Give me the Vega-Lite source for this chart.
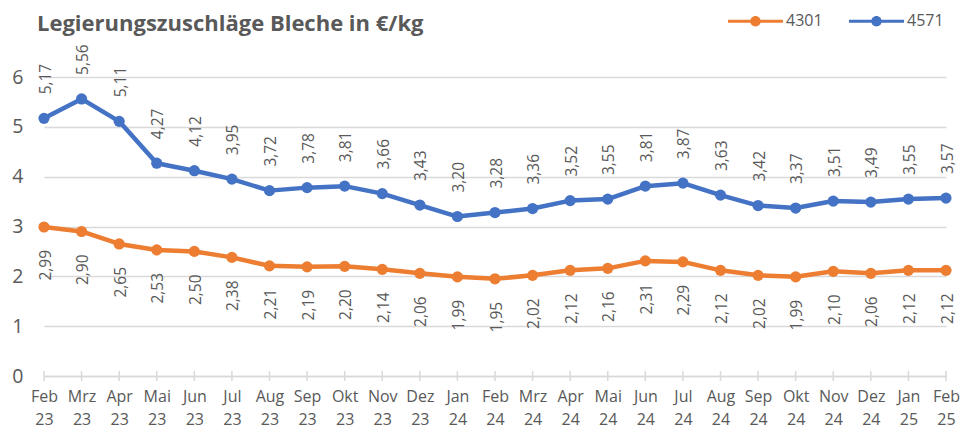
{
  "$schema": "https://vega.github.io/schema/vega-lite/v6.json",
  "width": 902,
  "height": 299,
  "autosize": {"type": "none"},
  "padding": {"left": 44, "top": 77, "right": 22, "bottom": 52},
  "background": "#ffffff",
  "title": {
    "text": "Legierungszuschläge Bleche in €/kg",
    "anchor": "start",
    "frame": "group",
    "font": "Open Sans",
    "fontSize": 22,
    "fontWeight": "bold",
    "color": "#595959",
    "baseline": "alphabetic",
    "dx": -7,
    "dy": 59,
    "offset": 0
  },
  "config": {
    "font": "Open Sans",
    "view": {"stroke": null},
    "locale": {"number": {"decimal": ",", "thousands": ".", "grouping": [3], "currency": ["", " €"]}}
  },
  "data": {
    "values": [
      {"month": "Feb 23", "series": "4301", "value": 2.99}, {"month": "Mrz 23", "series": "4301", "value": 2.90},
      {"month": "Apr 23", "series": "4301", "value": 2.65}, {"month": "Mai 23", "series": "4301", "value": 2.53},
      {"month": "Jun 23", "series": "4301", "value": 2.50}, {"month": "Jul 23", "series": "4301", "value": 2.38},
      {"month": "Aug 23", "series": "4301", "value": 2.21}, {"month": "Sep 23", "series": "4301", "value": 2.19},
      {"month": "Okt 23", "series": "4301", "value": 2.20}, {"month": "Nov 23", "series": "4301", "value": 2.14},
      {"month": "Dez 23", "series": "4301", "value": 2.06}, {"month": "Jan 24", "series": "4301", "value": 1.99},
      {"month": "Feb 24", "series": "4301", "value": 1.95}, {"month": "Mrz 24", "series": "4301", "value": 2.02},
      {"month": "Apr 24", "series": "4301", "value": 2.12}, {"month": "Mai 24", "series": "4301", "value": 2.16},
      {"month": "Jun 24", "series": "4301", "value": 2.31}, {"month": "Jul 24", "series": "4301", "value": 2.29},
      {"month": "Aug 24", "series": "4301", "value": 2.12}, {"month": "Sep 24", "series": "4301", "value": 2.02},
      {"month": "Okt 24", "series": "4301", "value": 1.99}, {"month": "Nov 24", "series": "4301", "value": 2.10},
      {"month": "Dez 24", "series": "4301", "value": 2.06}, {"month": "Jan 25", "series": "4301", "value": 2.12},
      {"month": "Feb 25", "series": "4301", "value": 2.12},
      {"month": "Feb 23", "series": "4571", "value": 5.17}, {"month": "Mrz 23", "series": "4571", "value": 5.56},
      {"month": "Apr 23", "series": "4571", "value": 5.11}, {"month": "Mai 23", "series": "4571", "value": 4.27},
      {"month": "Jun 23", "series": "4571", "value": 4.12}, {"month": "Jul 23", "series": "4571", "value": 3.95},
      {"month": "Aug 23", "series": "4571", "value": 3.72}, {"month": "Sep 23", "series": "4571", "value": 3.78},
      {"month": "Okt 23", "series": "4571", "value": 3.81}, {"month": "Nov 23", "series": "4571", "value": 3.66},
      {"month": "Dez 23", "series": "4571", "value": 3.43}, {"month": "Jan 24", "series": "4571", "value": 3.20},
      {"month": "Feb 24", "series": "4571", "value": 3.28}, {"month": "Mrz 24", "series": "4571", "value": 3.36},
      {"month": "Apr 24", "series": "4571", "value": 3.52}, {"month": "Mai 24", "series": "4571", "value": 3.55},
      {"month": "Jun 24", "series": "4571", "value": 3.81}, {"month": "Jul 24", "series": "4571", "value": 3.87},
      {"month": "Aug 24", "series": "4571", "value": 3.63}, {"month": "Sep 24", "series": "4571", "value": 3.42},
      {"month": "Okt 24", "series": "4571", "value": 3.37}, {"month": "Nov 24", "series": "4571", "value": 3.51},
      {"month": "Dez 24", "series": "4571", "value": 3.49}, {"month": "Jan 25", "series": "4571", "value": 3.55},
      {"month": "Feb 25", "series": "4571", "value": 3.57}
    ]
  },
  "encoding": {
    "x": {
      "field": "month",
      "type": "ordinal",
      "sort": null,
      "scale": {
        "type": "point",
        "padding": 0,
        "domain": ["Feb 23","Mrz 23","Apr 23","Mai 23","Jun 23","Jul 23","Aug 23","Sep 23","Okt 23","Nov 23","Dez 23","Jan 24","Feb 24","Mrz 24","Apr 24","Mai 24","Jun 24","Jul 24","Aug 24","Sep 24","Okt 24","Nov 24","Dez 24","Jan 25","Feb 25"]
      },
      "axis": {
        "title": null,
        "labelAngle": 0,
        "labelExpr": "split(datum.label, ' ')",
        "labelFontSize": 16,
        "labelColor": "#595959",
        "labelLineHeight": 23,
        "labelPadding": 12,
        "domainColor": "#d9d9d9",
        "domainWidth": 1.5,
        "ticks": false,
        "grid": false
      }
    },
    "y": {
      "field": "value",
      "type": "quantitative",
      "scale": {"domain": [0, 6], "nice": false, "zero": true},
      "axis": {
        "title": null,
        "values": [0, 1, 2, 3, 4, 5, 6],
        "labelFontSize": 19.5,
        "labelColor": "#595959",
        "labelPadding": 21,
        "domain": false,
        "ticks": false,
        "grid": true,
        "gridColor": "#d9d9d9",
        "gridWidth": 1.5
      }
    }
  },
  "layer": [
    {
      "transform": [{"filter": "datum.series == '4301'"}],
      "mark": {"type": "rule", "color": "#d9d9d9", "strokeWidth": 1.5},
      "encoding": {
        "y": {"datum": -0.1},
        "y2": {"datum": 0.1}
      }
    },
    {
      "mark": {"type": "line", "strokeWidth": 4.5, "strokeCap": "round", "strokeJoin": "round"},
      "encoding": {
        "color": {
          "field": "series",
          "type": "nominal",
          "scale": {"domain": ["4301", "4571"], "range": ["#ED7D31", "#4472C4"]}
        }
      }
    },
    {
      "mark": {"type": "point", "filled": true, "opacity": 1, "size": 125},
      "encoding": {
        "color": {
          "field": "series",
          "type": "nominal",
          "scale": {"domain": ["4301", "4571"], "range": ["#ED7D31", "#4472C4"]},
          "legend": {
            "title": null,
            "orient": "none",
            "direction": "horizontal",
            "legendX": 684,
            "legendY": -83.5,
            "padding": 0,
            "symbolType": "M-1,-0.055H1V0.055H-1Z M0.19,0 A0.19,0.19 0 1 1 -0.19,0 A0.19,0.19 0 1 1 0.19,0Z",
            "symbolSize": 3025,
            "symbolStrokeWidth": 0,
            "symbolOpacity": 1,
            "labelFontSize": 16,
            "labelColor": "#595959",
            "labelOffset": 3,
            "columnPadding": 26,
            "encode": {
              "symbols": {
                "update": {
                  "fill": {"scale": "color", "field": "value"},
                  "stroke": {"value": "transparent"},
                  "fillOpacity": {"value": 1}
                }
              }
            }
          }
        }
      }
    },
    {
      "transform": [{"filter": "datum.series == '4571'"}],
      "mark": {"type": "text", "angle": -90, "align": "left", "baseline": "middle", "dx": 24, "dy": 1.5, "fontSize": 15.5, "color": "#595959"},
      "encoding": {
        "text": {"field": "value", "type": "quantitative", "format": ".2f"}
      }
    },
    {
      "transform": [{"filter": "datum.series == '4301'"}],
      "mark": {"type": "text", "angle": -90, "align": "right", "baseline": "middle", "dx": -23, "dy": 1.5, "fontSize": 15.5, "color": "#595959"},
      "encoding": {
        "text": {"field": "value", "type": "quantitative", "format": ".2f"}
      }
    }
  ]
}
